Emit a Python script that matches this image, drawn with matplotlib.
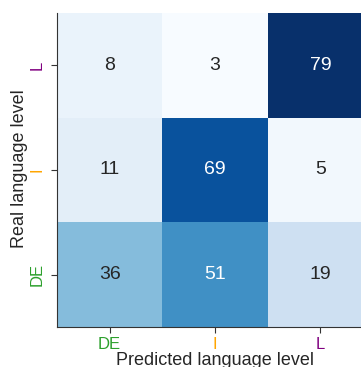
import numpy as np
import matplotlib
matplotlib.use("Agg")
import matplotlib.pyplot as plt
import seaborn as sns

# confusion matrix: rows = real level, cols = predicted level
levels = ["DE", "I", "L"]
level_colors = ["tab:green", "orange", "purple"]
counts = np.array([
    [36, 51, 19],   # DE
    [11, 69, 5],    # I
    [8, 3, 79],     # L
])

sns.set_style("ticks")
plt.rcParams["font.family"] = ["Liberation Sans", "DejaVu Sans"]

fig = plt.figure(figsize=(3.61, 3.67), dpi=100)
ax = fig.add_axes([57 / 361, 1 - 327 / 367, 316 / 361, 314 / 367])

sns.heatmap(counts, ax=ax, cmap="Blues", annot=True, fmt="d", cbar=False,
            annot_kws={"fontsize": 14})
ax.invert_yaxis()

ax.set_xticklabels(levels, fontsize=12, rotation=0)
ax.set_yticklabels(levels, fontsize=12, rotation=90, va="center")
for lbl, c in zip(ax.get_xticklabels(), level_colors):
    lbl.set_color(c)
for lbl, c in zip(ax.get_yticklabels(), level_colors):
    lbl.set_color(c)

ax.set_xlabel("Predicted language level", fontsize=13)
ax.set_ylabel("Real language level", fontsize=13)
ax.xaxis.set_label_coords(0.5, -0.08)
ax.yaxis.set_label_coords(-0.092, 0.503)

for side in ["left", "bottom"]:
    ax.spines[side].set_visible(True)
    ax.spines[side].set_color("#333333")
ax.tick_params(axis="x", length=4, color="#333333", pad=3)
ax.tick_params(axis="y", length=4, color="#333333", pad=5)

fig.savefig("out.png", dpi=100)
